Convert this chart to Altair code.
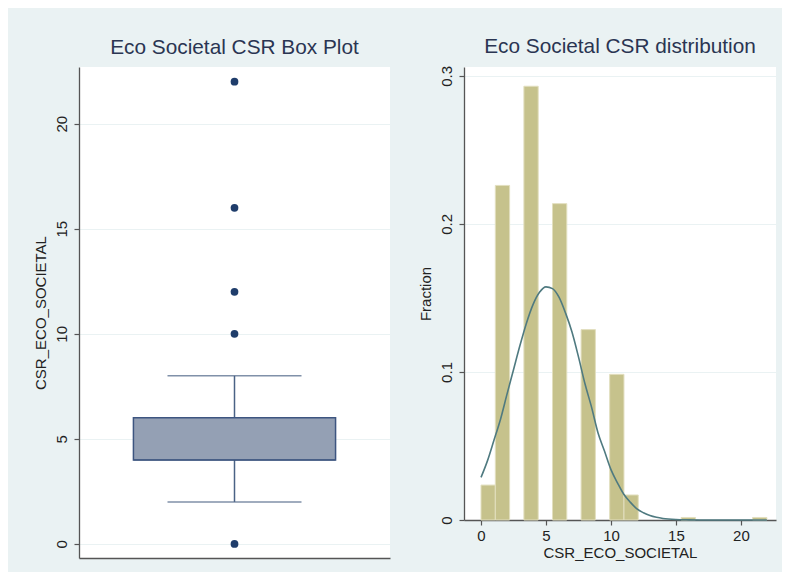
import altair as alt
import pandas as pd

# ---- Box plot summary (CSR_ECO_SOCIETAL) ----
box_var = ["CSR_ECO_SOCIETAL"]
box_q1 = [4]
box_median = [4]
box_q3 = [6]
whisker_low = [2]
whisker_high = [8]
outliers = [0, 10, 12, 16, 22]

# ---- Histogram (fraction per bin, bin width 1.1) ----
bin_start = [0.0, 1.1, 3.3, 5.5, 7.7, 9.9, 11.0, 15.4, 20.9]
bin_end = [1.1, 2.2, 4.4, 6.6, 8.8, 11.0, 12.1, 16.5, 22.0]
fraction = [0.0236, 0.226, 0.293, 0.2137, 0.1286, 0.0984, 0.0169, 0.0017, 0.0017]

# ---- Normal overlay curve ----
curve_x = [0, 0.5, 1, 1.5, 2, 2.5, 3, 3.5, 4, 4.5, 5, 5.5, 6, 6.5, 7, 7.5, 8, 8.5,
           9, 9.5, 10, 10.5, 11, 11.5, 12, 12.5, 13, 13.5, 14, 15, 16, 17, 18, 19, 20, 21, 22]
curve_y = [0.0288, 0.0401, 0.054, 0.0681, 0.085, 0.1015, 0.118, 0.1331, 0.1455, 0.1538,
           0.1575, 0.1563, 0.1505, 0.1399, 0.127, 0.1102, 0.092, 0.0764, 0.059, 0.0466,
           0.034, 0.0251, 0.0172, 0.0119, 0.0075, 0.0049, 0.003, 0.0018, 0.001, 0.0003,
           0.0001, 0, 0, 0, 0, 0, 0]

FONT = "Liberation Sans"
LABEL_COLOR = "#222222"
TITLE_COLOR = "#2a3552"
AXIS_COLOR = "#555555"
GRID_COLOR = "#eaf2f3"
BG = "#eaf2f3"

box_df = pd.DataFrame({"var": box_var, "q1": box_q1, "median": box_median,
                       "q3": box_q3, "lo": whisker_low, "hi": whisker_high})
out_df = pd.DataFrame({"var": box_var * len(outliers), "value": outliers})
hist_df = pd.DataFrame({"start": bin_start, "end": bin_end, "fraction": fraction})
curve_df = pd.DataFrame({"x": curve_x, "y": curve_y})

common_axis = dict(labelFont=FONT, titleFont=FONT, labelFontSize=15, titleFontSize=15,
                   labelColor=LABEL_COLOR, titleColor=LABEL_COLOR, titleFontWeight="normal",
                   domainColor=AXIS_COLOR, domainWidth=1.3, tickColor=AXIS_COLOR, tickSize=5,
                   tickWidth=1.2, gridColor=GRID_COLOR, gridWidth=1)

# ---------------- Left: box plot ----------------
y_left_scale = alt.Scale(domain=[-0.67, 22.7], nice=False, zero=False)
y_left_axis = alt.Axis(title="CSR_ECO_SOCIETAL", values=[0, 5, 10, 15, 20], labelAngle=270,
                       labelPadding=5, titlePadding=6, grid=True, **common_axis)
x_box = alt.X("var:N", title=None,
              scale=alt.Scale(paddingInner=0, paddingOuter=0),
              axis=alt.Axis(labels=False, ticks=False, domain=True, grid=False,
                            domainColor=AXIS_COLOR, domainWidth=1.3))

whisk = alt.Chart(box_df).mark_rule(color="#4a6285", strokeWidth=1.5).encode(
    x=x_box, y=alt.Y("lo:Q", scale=y_left_scale, axis=y_left_axis), y2="hi:Q")
box = alt.Chart(box_df).mark_bar(width={"band": 0.65}, fill="#94a0b4", stroke="#3d5580",
                                 strokeWidth=1.5).encode(x=x_box, y="q1:Q", y2="q3:Q")
med = alt.Chart(box_df).mark_tick(size=202, thickness=1.5, color="#3d5580").encode(
    x=x_box, y="median:Q")
cap_lo = alt.Chart(box_df).mark_tick(size=134, thickness=1.5, color="#4a6285").encode(
    x=x_box, y="lo:Q")
cap_hi = alt.Chart(box_df).mark_tick(size=134, thickness=1.5, color="#4a6285").encode(
    x=x_box, y="hi:Q")
pts = alt.Chart(out_df).mark_circle(size=60, color="#1f3d6b", opacity=1).encode(
    x=x_box, y="value:Q")

left = alt.layer(whisk, box, med, cap_lo, cap_hi, pts).properties(
    width=311, height=491,
    title=alt.TitleParams("Eco Societal CSR Box Plot", font=FONT, fontSize=20.8,
                          fontWeight="normal", color=TITLE_COLOR, offset=8))

# ---------------- Right: histogram ----------------
x_hist_scale = alt.Scale(domain=[-1.31, 22.7], nice=False, zero=False)
y_hist_scale = alt.Scale(domain=[0, 0.306], nice=False)
x_hist_axis = alt.Axis(title="CSR_ECO_SOCIETAL", values=[0, 5, 10, 15, 20], labelAngle=0,
                       labelPadding=3, titlePadding=2, grid=False, **common_axis)
y_hist_axis = alt.Axis(title="Fraction", values=[0, 0.1, 0.2, 0.3], format=".1~f",
                       labelAngle=270, labelPadding=5, titlePadding=6, grid=True, **common_axis)

bars = alt.Chart(hist_df).mark_rect(fill="#c6c28c", stroke="#e2dfbf", strokeWidth=1).encode(
    x=alt.X("start:Q", scale=x_hist_scale, axis=x_hist_axis),
    x2="end:Q",
    y=alt.Y("fraction:Q", scale=y_hist_scale, axis=y_hist_axis),
    y2=alt.datum(0))
curve = alt.Chart(curve_df).mark_line(color="#4f7a80", strokeWidth=1.6,
                                      interpolate="monotone").encode(
    x=alt.X("x:Q", scale=x_hist_scale), y=alt.Y("y:Q", scale=y_hist_scale))

right = alt.layer(bars, curve).properties(
    width=312, height=453,
    title=alt.TitleParams("Eco Societal CSR distribution", font=FONT, fontSize=20.8,
                          fontWeight="normal", color=TITLE_COLOR, offset=8))

chart = alt.hconcat(left, right, spacing=28).properties(
    background=BG,
    padding={"left": 25, "top": 27, "right": 6, "bottom": 12},
).configure_view(fill="white", stroke=None)

chart.save("out.html", embed_options={"renderer": "svg", "actions": False})
